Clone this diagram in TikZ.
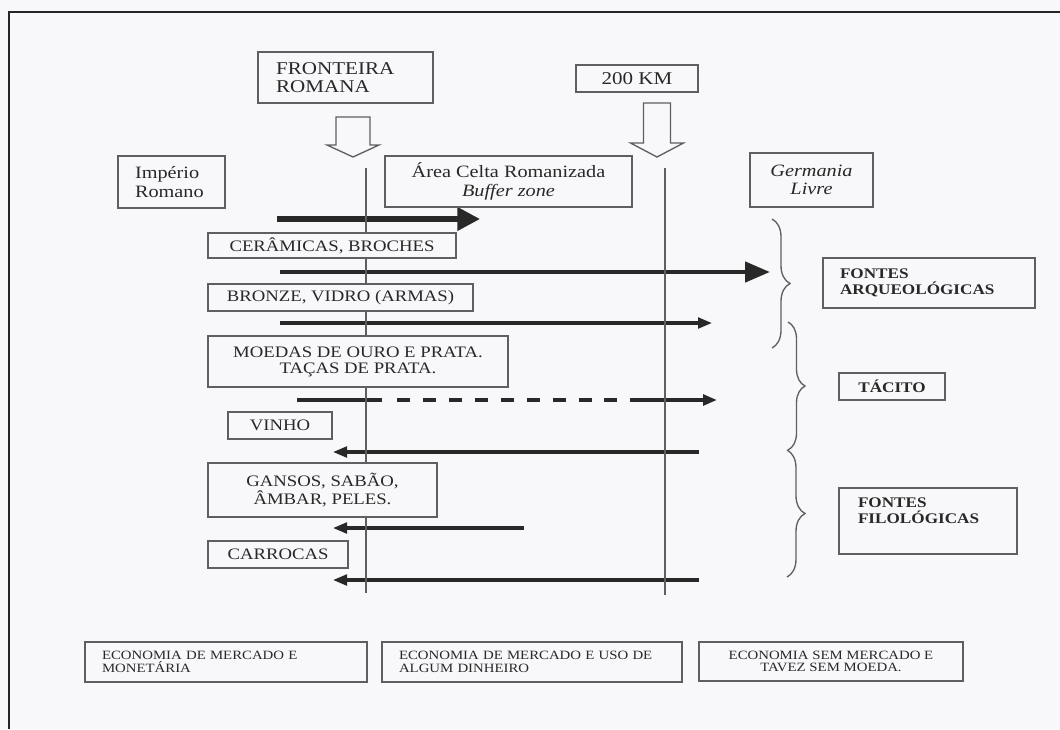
\documentclass[tikz,border=0pt]{standalone}
\usepackage{fontspec}
\setmainfont{Liberation Serif}[FakeStretch=1.17]
\usetikzlibrary{arrows.meta,decorations.pathreplacing}
\definecolor{bg}{RGB}{248,248,250}
\definecolor{ink}{RGB}{40,40,40}
\definecolor{edge}{RGB}{95,95,95}
\definecolor{txt}{RGB}{40,40,40}
\begin{document}
\begin{tikzpicture}[x=0.75pt,y=-0.75pt,
  box/.style={draw=edge, line width=1pt, fill=bg, text=txt, inner sep=0pt, align=center},
  sz/.style 2 args={minimum width=#1*0.75pt, minimum height=#2*0.75pt},
  lab/.style={font=\fontsize{13}{14}\selectfont},
  item/.style={font=\fontsize{12}{12}\selectfont},
  src/.style={font=\bfseries\fontsize{11}{12}\selectfont},
  eco/.style={font=\fontsize{9.5}{9.5}\selectfont, line width=1.5pt},
  vline/.style={draw=edge, line width=0.9pt},
  hollow/.style={draw=edge, line width=1pt, fill=bg, line join=miter},
  flowthin/.style={draw=ink, line width=2.3pt, -{Triangle[length=10.5pt,width=8pt]}},
  bracestyle/.style={draw=edge, line width=1pt, decorate}
]
% canvas
\fill[bg] (0,0) rectangle (1060,729);
\useasboundingbox (0,0) rectangle (1060,729);
\draw[line width=2.2pt, black!85] (9,729) -- (9,12) -- (1060,12);

% coordinates
\coordinate (v1t) at (366,168); \coordinate (v1b) at (366,593);
\coordinate (v2t) at (665,168); \coordinate (v2b) at (665,595);
\coordinate (a1s) at (277,219); \coordinate (a1e) at (480,219);
\coordinate (a2s) at (280,272); \coordinate (a2e) at (770,272);
\coordinate (a3s) at (280,323); \coordinate (a3e) at (712,323);
\coordinate (a4s) at (297,400); \coordinate (a4e) at (717,400);
\coordinate (a5s) at (699,452); \coordinate (a5e) at (333,452);
\coordinate (a6s) at (524,528); \coordinate (a6e) at (333,528);
\coordinate (a7s) at (699,580); \coordinate (a7e) at (333,580);

% flow arrows
\draw[draw=ink, line width=3.8pt, -{Triangle[length=17pt,width=17pt]}] (a1s) -- (a1e);
\draw[draw=ink, line width=3.4pt, -{Triangle[length=18.75pt,width=15pt]}] (a2s) -- (a2e);
\draw[flowthin] (a3s) -- (a3e);
\draw[flowthin, line width=2.6pt, dash pattern=on 63.75pt off 11.25pt on 9.75pt off 9.7pt on 9.75pt off 9.7pt on 9.75pt off 9.7pt on 9.75pt off 9.7pt on 9.75pt off 9.7pt on 9.75pt off 9.7pt on 9.75pt off 9.7pt on 9.75pt off 9.7pt on 9.75pt off 9.7pt on 80pt off 0pt] (a4s) -- (a4e);
\draw[flowthin] (a5s) -- (a5e);
\draw[flowthin] (a6s) -- (a6e);
\draw[flowthin] (a7s) -- (a7e);

% border lines
\draw[vline] (v1t) -- (v1b);
\draw[vline] (v2t) -- (v2b);

% hollow arrows
\draw[hollow] (336,117) -- (370,117) -- (370,145) -- (379,145) -- (353,157) -- (327,145) -- (336,145) -- cycle;
\draw[hollow] (643.5,103) -- (670.5,103) -- (670.5,143) -- (683.5,143) -- (657,157) -- (630.5,143) -- (643.5,143) -- cycle;

% header boxes
\node[box, sz={175}{51}, font=\fontsize{13.5}{13.5}\selectfont, text width=104pt, align=left] (fr) at (345.5,77.5) {FRONTEIRA\\ROMANA};
\node[box, sz={122}{27}, font=\fontsize{13.5}{13.5}\selectfont] (km) at (637,78.5) {200 KM};
\node[box, sz={107}{52}, lab, text width=54.75pt, align=left] (ir) at (171.5,182) {Império\\Romano};
\node[box, sz={247}{51}, lab] (ac) at (508.5,181.5) {Área Celta Romanizada\\\textit{Buffer zone}};
\node[box, sz={123}{54}, font=\fontsize{13}{14}\selectfont\itshape] (gl) at (811.5,180) {Germania\\Livre};

% goods boxes
\node[box, sz={248}{25}, item] (b1) at (332,245.5) {CERÂMICAS, BROCHES};
\node[box, sz={265}{27}, item] (b2) at (340.5,297.5) {BRONZE, VIDRO (ARMAS)};
\node[box, sz={300}{51}, item] (b3) at (358,361.5) {MOEDAS DE OURO E PRATA.\\TAÇAS DE PRATA.};
\node[box, sz={104}{27}, item] (b4) at (280,425.5) {VINHO};
\node[box, sz={229}{54}, item] (b5) at (322.5,490) {GANSOS, SABÃO,\\ÂMBAR, PELES.};
\node[box, sz={140}{27}, item] (b6) at (278,554.5) {CARROCAS};

% braces
\draw[bracestyle, decoration={brace, amplitude=13.5pt}] (772,219) -- (772,348);
\draw[bracestyle, decoration={brace, amplitude=12.75pt}] (788,322) -- (788,450);
\draw[bracestyle, decoration={brace, amplitude=13.5pt}] (787,450) -- (787,577);

% source boxes
\node[box, sz={212}{50}, src, text width=133.5pt, align=left] (fa) at (929,283) {FONTES\\ARQUEOLÓGICAS};
\node[box, sz={106}{27}, src] (ta) at (892,386.5) {TÁCITO};
\node[box, sz={178}{66}, src, inner xsep=14.25pt, inner ysep=7pt] (ff) at (928,521) {\parbox[c][35.5pt][t]{105pt}{FONTES\\FILOLÓGICAS}};

% economy boxes
\node[box, sz={282}{40}, eco, text width=186pt, align=left] (e1) at (226,662) {ECONOMIA DE MERCADO E\\MONETÁRIA};
\node[box, sz={300}{40}, eco, text width=199.5pt, align=left] (e2) at (532,662) {ECONOMIA DE MERCADO E USO DE\\ALGUM DINHEIRO};
\node[box, sz={264}{39}, eco] (e3) at (831,661.5) {ECONOMIA SEM MERCADO E\\TAVEZ SEM MOEDA.};
\end{tikzpicture}
\end{document}
